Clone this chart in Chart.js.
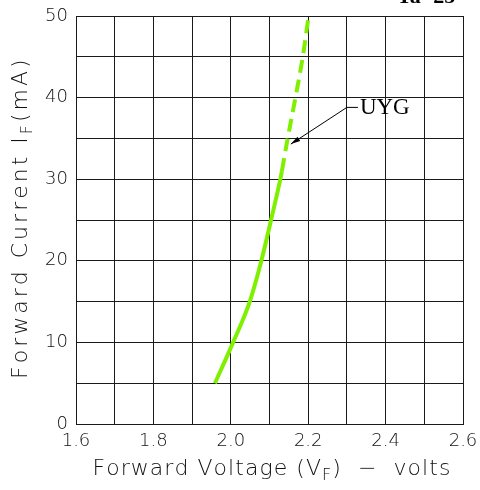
<!DOCTYPE html>
<html>
<head>
<meta charset="utf-8">
<script src="https://cdn.jsdelivr.net/npm/chart.js@4"></script>
<style>
  html, body { margin: 0; padding: 0; background: #fff; }
  #wrap { width: 480px; height: 490px; }
</style>
</head>
<body>
<div id="wrap"><canvas id="ivChart" width="480" height="490"></canvas></div>
<script>
// forward voltage (V) vs forward current (mA)
var solidVolts = [1.959, 2.006, 2.049, 2.079, 2.104, 2.128, 2.132];
var solidAmps = [5, 10, 15, 20, 25, 30, 31];
var dashVolts = [2.132, 2.147, 2.167, 2.186, 2.201];
var dashAmps = [31, 35, 40, 45, 50];

var xTicks = [1.6, 1.8, 2.0, 2.2, 2.4, 2.6];
var yTicks = [0, 10, 20, 30, 40, 50];

var seriesName = "UYG";
var arrowFrom = {x: 2.30, y: 38.8};
var arrowTo = {x: 2.155, y: 34.3};

function toPoints(xs, ys) {
    return xs.map(function (v, i) { return {x: v, y: ys[i]}; });
}

var green = "#7ff000";
var gridColor = "#1a1a1a";
var textColor = "#111";
var tickFont = {family: "DejaVu Sans", size: 18, weight: 200};

// draws text pieces (with subscripts) stretched out to a given width
function spacedText(ctx, parts, cx, cy, width, size) {
    var total = 0, n = 0;
    parts.forEach(function (p) {
        ctx.font = "200 " + (p.sub ? size * 0.72 : size) + "px 'DejaVu Sans'";
        total += ctx.measureText(p.t).width;
        n += p.t.length;
    });
    var gap = (width - total) / (n - 1);
    var x = cx - width / 2;
    parts.forEach(function (p) {
        ctx.font = "200 " + (p.sub ? size * 0.72 : size) + "px 'DejaVu Sans'";
        for (var i = 0; i < p.t.length; i++) {
            var ch = p.t[i];
            ctx.fillText(ch, x, cy + (p.sub ? size * 0.3 : 0));
            x += ctx.measureText(ch).width + gap;
        }
    });
}

var extras = {
    id: "extras",
    afterDraw: function (chart) {
        var ctx = chart.ctx;
        var xs = chart.scales.x, ys = chart.scales.y;
        ctx.save();
        ctx.fillStyle = textColor;
        ctx.textBaseline = "middle";
        ctx.textAlign = "left";
        spacedText(ctx, [{t: "Forward Voltage (V"}, {t: "F", sub: true}, {t: ")  \u2212  volts"}], 270, 469, 355, 22);

        ctx.translate(21, 220);
        ctx.rotate(-Math.PI / 2);
        spacedText(ctx, [{t: "Forward Current I"}, {t: "F", sub: true}, {t: "(mA)"}], 0, 0, 318, 22);
        ctx.restore();

        // arrow to the dashed part of the curve
        var x0 = xs.getPixelForValue(arrowFrom.x), y0 = ys.getPixelForValue(arrowFrom.y);
        var x1 = xs.getPixelForValue(arrowTo.x), y1 = ys.getPixelForValue(arrowTo.y);
        ctx.save();
        ctx.strokeStyle = "#000";
        ctx.fillStyle = "#000";
        ctx.lineWidth = 1;
        ctx.beginPath();
        ctx.moveTo(x0 + 11, y0);
        ctx.lineTo(x0, y0);
        ctx.lineTo(x1, y1);
        ctx.stroke();
        var a = Math.atan2(y1 - y0, x1 - x0);
        ctx.beginPath();
        ctx.moveTo(x1, y1);
        ctx.lineTo(x1 - 10 * Math.cos(a - 0.25), y1 - 10 * Math.sin(a - 0.25));
        ctx.lineTo(x1 - 10 * Math.cos(a + 0.25), y1 - 10 * Math.sin(a + 0.25));
        ctx.closePath();
        ctx.fill();

        ctx.font = "23px 'Liberation Serif'";
        ctx.textBaseline = "middle";
        ctx.fillText(seriesName, x0 + 13, y0 + 1);

        ctx.font = "bold 22px 'Liberation Serif'";
        ctx.textBaseline = "alphabetic";
        ctx.fillText("Ta=25", 397, 3);
        ctx.restore();
    }
};

var chart = new Chart(document.getElementById("ivChart").getContext("2d"), {
    type: "line",
    data: {
        datasets: [{
            data: toPoints(solidVolts, solidAmps),
            borderColor: green,
            borderWidth: 4,
            pointRadius: 0,
            cubicInterpolationMode: "monotone",
            fill: false
        }, {
            data: toPoints(dashVolts, dashAmps),
            borderColor: green,
            borderWidth: 4,
            borderDash: [13, 7],
            pointRadius: 0,
            cubicInterpolationMode: "monotone",
            fill: false
        }]
    },
    options: {
        responsive: false,
        animation: false,
        layout: {padding: {top: 16, right: 17, left: 0, bottom: 0}},
        plugins: {legend: {display: false}, tooltip: {enabled: false}},
        scales: {
            x: {
                type: "linear",
                min: 1.6,
                max: 2.6,
                afterFit: function (s) {
                    s.height = 66;
                    s.paddingLeft = 0;
                    s.paddingRight = 0;
                },
                afterBuildTicks: function (s) {
                    s.ticks = [];
                    for (var i = 0; i <= 10; i++) s.ticks.push({value: Math.round((1.6 + i * 0.1) * 10) / 10});
                },
                border: {color: gridColor, width: 1},
                grid: {color: gridColor, lineWidth: 1, drawTicks: false},
                ticks: {
                    autoSkip: false,
                    maxRotation: 0,
                    padding: 7,
                    color: textColor,
                    font: tickFont,
                    callback: function (v) {
                        var hit = xTicks.find(function (t) { return Math.abs(t - v) < 1e-6; });
                        return hit === undefined ? "" : hit.toFixed(1);
                    }
                }
            },
            y: {
                type: "linear",
                min: 0,
                max: 50,
                afterFit: function (s) {
                    s.width = 76;
                    s.paddingTop = 0;
                    s.paddingBottom = 0;
                },
                afterBuildTicks: function (s) {
                    s.ticks = [];
                    for (var i = 0; i <= 10; i++) s.ticks.push({value: i * 5});
                },
                border: {color: gridColor, width: 1},
                grid: {color: gridColor, lineWidth: 1, drawTicks: false},
                ticks: {
                    autoSkip: false,
                    padding: 8,
                    color: textColor,
                    font: tickFont,
                    callback: function (v) {
                        return yTicks.indexOf(v) >= 0 ? String(v) : "";
                    }
                }
            }
        }
    },
    plugins: [extras]
});
</script>
</body>
</html>
